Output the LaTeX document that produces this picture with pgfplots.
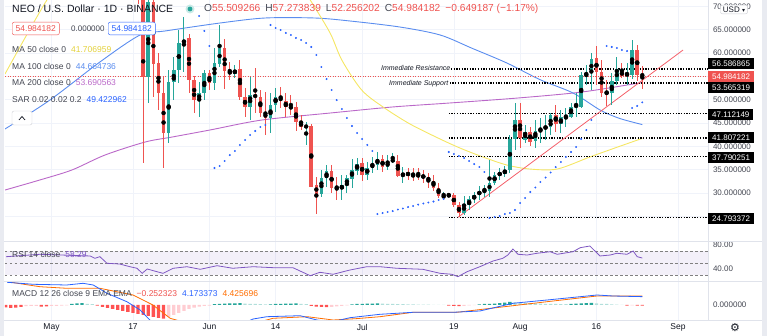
\documentclass[border=0pt]{standalone}
\usepackage{pgfplots}
\pgfplotsset{compat=1.18}
\usepackage{pgfplotstable}
\usepackage{fontspec}
\setmainfont{Liberation Sans}
\newfontfamily\dejavu{DejaVu Sans}
\definecolor{upc}{HTML}{26A69A}
\definecolor{dnc}{HTML}{EF5350}
\definecolor{ma50}{HTML}{F5E663}
\definecolor{ma50t}{HTML}{E3D13C}
\definecolor{ma100}{HTML}{5B8DEF}
\definecolor{ma200}{HTML}{BA68C8}
\definecolor{sarc}{HTML}{2962FF}
\definecolor{gridc}{HTML}{F0F3FA}
\definecolor{sepc}{HTML}{E0E3EB}
\definecolor{txt}{HTML}{131722}
\definecolor{lbl}{HTML}{434651}
\definecolor{rsic}{HTML}{7E57C2}
\definecolor{sigc}{HTML}{FF6D00}
\definecolor{hdr}{HTML}{FF5252}
\definecolor{hlr}{HTML}{FFCDD2}
\definecolor{hdg}{HTML}{26A69A}
\definecolor{hlg}{HTML}{B2DFDB}
\definecolor{trend}{HTML}{F4606A}
\newcommand{\fs}[1]{\fontsize{#1}{#1}\selectfont}

\pgfplotstableread{
d o h l c
19 54.86 75.0 49.29 71.0
23 42.86 56.36 40.72 53.79
24 53.79 59.15 49.93 56.36
25 56.36 64.93 53.57 62.15
26 62.15 67.72 55.93 62.79
29 49.93 53.79 46.29 51.43
30 51.43 56.36 49.93 55.71
32 53.57 61.07 52.07 57.86
33 57.64 66.0 57.0 61.07
36 55.5 57.43 54.64 56.36
39 48.43 54.86 45.64 51.0
43 46.07 51.43 42.86 48.86
44 48.86 52.5 47.36 50.57
50 44.14 45.21 40.29 44.36
53 29.79 34.93 29.14 33.21
54 33.21 36.0 31.29 34.71
57 30.86 33.86 28.5 31.71
58 31.71 33.86 30.0 33.21
59 33.0 37.29 31.07 34.93
60 34.71 37.5 33.86 36.21
62 33.86 36.64 32.79 35.36
63 35.36 37.72 34.29 36.21
64 36.0 38.79 34.93 37.29
66 35.57 38.14 34.93 36.64
67 36.86 38.57 36.43 37.07
69 33.64 35.57 32.14 34.29
77 29.14 30.22 28.93 29.36
78 29.36 30.0 29.14 29.57
81 25.71 29.36 25.29 27.64
82 27.43 29.36 26.36 28.72
83 28.72 30.22 27.86 29.57
84 29.57 31.5 28.5 30.43
85 30.43 31.71 29.14 30.86
86 30.43 37.07 29.14 32.14
87 32.14 34.5 31.71 33.86
88 33.86 35.36 32.79 34.29
89 34.07 35.79 33.43 34.93
90 34.93 42.43 34.29 41.57
91 41.57 49.29 39.22 45.64
93 41.36 44.57 40.72 43.07
95 41.15 45.64 39.64 43.29
96 43.29 46.07 40.72 43.93
97 43.93 46.72 41.36 44.14
98 44.14 47.14 42.43 46.72
100 44.78 47.79 42.86 46.29
101 46.29 48.22 44.14 46.5
102 46.29 49.29 46.07 48.43
103 48.43 51.43 46.29 48.86
104 48.43 55.93 48.22 55.29
105 55.29 57.43 53.14 55.71
106 55.71 60.0 52.07 58.72
110 51.43 55.71 48.86 54.0
111 54.0 59.15 53.14 56.57
113 55.29 57.86 53.14 55.5
114 55.29 62.79 54.43 60.64
}\upT

\pgfplotstableread{
d o h l c
17 90.0 95.0 70.5 76.0
18 76.0 80.0 36.43 54.86
20 71.0 72.5 50.5 57.64
21 57.86 60.0 47.79 51.43
22 51.43 54.86 35.36 42.86
27 63.22 64.0 51.43 54.21
28 54.21 55.0 47.14 49.93
31 55.71 56.36 52.07 53.57
34 61.07 63.0 52.29 56.14
35 56.14 58.07 54.21 55.5
37 56.57 58.5 49.93 50.57
38 50.57 52.5 46.29 48.43
40 51.0 56.79 47.14 50.57
41 50.57 52.07 46.29 47.14
42 47.14 51.65 42.43 46.07
45 50.57 52.72 48.22 49.72
46 49.72 51.43 46.29 48.43
47 48.43 51.0 46.72 48.22
48 48.43 49.5 43.29 45.21
49 45.21 46.72 43.5 44.14
51 44.36 44.78 31.29 31.29
52 31.71 33.43 25.5 29.79
55 34.71 36.0 30.0 31.07
56 31.29 33.43 28.5 31.07
61 36.43 37.5 32.57 33.86
65 37.29 38.14 34.5 35.57
68 36.86 38.14 33.43 33.64
70 34.29 35.36 32.79 33.86
71 34.07 35.36 32.57 33.43
72 34.07 35.36 32.79 33.43
73 33.86 34.93 32.14 33.21
74 33.43 34.29 31.07 32.57
75 32.57 33.86 30.43 31.07
76 31.07 32.14 28.93 29.36
79 29.57 30.0 27.0 27.43
80 27.43 28.07 24.79 25.71
92 45.64 49.29 39.64 41.79
94 43.07 44.14 40.07 40.93
99 46.72 48.86 43.07 44.78
107 58.93 61.5 53.14 55.93
108 55.93 58.5 50.57 51.43
109 51.65 54.21 48.65 51.43
112 56.14 57.86 54.64 55.07
115 60.64 61.72 54.0 55.29
116 55.51 57.27 52.26 54.98
}\dnT

\pgfplotsset{
  tvpane/.style={scale only axis, width=703pt, xmin=-9.13, xmax=128.9,
    at={(5pt,#1)}, anchor=south west, axis line style={draw=none},
    xtick={0,16,31,44,61,79,92,107,123}, xticklabels={}, xmajorgrids,
    grid style={gridc, line width=0.7pt}, major tick length=0pt,
    tick style={draw=none}, yticklabel pos=right,
    yticklabel style={font=\fs{8}, text=lbl, xshift=1.5pt},
    /pgf/number format/assume math mode=true, clip=true},
  wick/.style={only marks, mark=none, forget plot, error bars/.cd, y dir=both, y explicit,
    error mark=none, error bar style={draw=#1, line width=0.9pt}},
  body/.style={only marks, mark=none, forget plot, error bars/.cd, y dir=both, y explicit,
    error mark=none, error bar style={draw=#1, line width=3.6pt}},
  hbar/.style={ybar, bar width=3.3pt, bar shift=0pt, fill=#1, draw=none, forget plot}
}

\begin{document}
\begin{tikzpicture}
\useasboundingbox (0,0) rectangle (767pt,336pt);

% ===== main price pane =====
\begin{axis}[tvpane=95pt, height=241pt, ymin=19.72, ymax=71.36,
  ytick={30,35,40,45,50,60,65,70}, ymajorgrids,
  extra y ticks={25,55}, extra y tick labels={}, extra y tick style={grid=major},
  /pgf/number format/.cd, fixed, fixed zerofill, precision=6]
% MAs
\addplot[ma200, line width=0.9pt, smooth] coordinates {(-9.13,30.64) (-2.3,32.79) (4.0,34.93) (10.5,38.14) (18.4,40.93) (23.7,42.0) (31.1,43.5) (41.3,45.64) (54.7,47.14) (66.9,48.43) (78.2,49.29) (91.6,50.36) (104.2,51.65) (116,53.69)};
\addplot[ma100, line width=0.9pt, smooth] coordinates {(-9.13,43.72) (-0.3,49.93) (9.5,58.07) (17.4,63.86) (22.3,64.72) (33.1,66.43) (41.9,67.5) (51.7,67.5) (58.6,66.86) (68.4,65.57) (76.3,63.86) (82.6,61.0) (89.4,57.86) (95.9,54.3) (102.4,51.43) (107.7,47.79) (111.5,46.0) (116,44.66)};
\addplot[ma50, line width=0.9pt, smooth] coordinates {(-9.13,55.5) (-0.9,71.36) (5.6,81.0) (29.2,90.6) (44.9,81.0) (48.8,74.6) (50.8,71.36) (54.7,64.29) (57.0,58.5) (60.9,52.07) (65.1,48.43) (70.4,44.78) (76.3,41.57) (80.2,39.64) (84.7,37.72) (89.4,36.0) (93.9,35.14) (99.3,35.14) (105.7,37.72) (110.6,39.64) (116,41.71)};
% current price line
\addplot[dnc, line width=0.5pt, dash pattern=on 1pt off 1.5pt] coordinates {(-9.13,54.984182) (128.9,54.984182)};
% horizontal levels
\addplot[black, line width=1.3pt, dash pattern=on 1.3pt off 1.4pt] coordinates {(78.4,56.586865) (128.9,56.586865)};
\addplot[black, line width=1.3pt, dash pattern=on 1.3pt off 1.4pt] coordinates {(78.2,53.565319) (128.9,53.565319)};
\addplot[black, line width=1.3pt, dash pattern=on 1.3pt off 1.4pt] coordinates {(78.0,47.112149) (128.9,47.112149)};
\addplot[black, line width=1.3pt, dash pattern=on 1.3pt off 1.4pt] coordinates {(78.0,41.807221) (128.9,41.807221)};
\addplot[black, line width=1.3pt, dash pattern=on 1.3pt off 1.4pt] coordinates {(78.0,37.790251) (128.9,37.790251)};
\addplot[black, line width=1.3pt, dash pattern=on 1.3pt off 1.4pt] coordinates {(78.0,24.793372) (128.9,24.793372)};
% trend line
\addplot[trend, line width=0.8pt] coordinates {(79.8,24.79) (124,60.64)};
% candles
\addplot[wick=upc] table[x=d, y expr={(\thisrow{h}+\thisrow{l})/2}, y error expr={(\thisrow{h}-\thisrow{l})/2}] {\upT};
\addplot[wick=dnc] table[x=d, y expr={(\thisrow{h}+\thisrow{l})/2}, y error expr={(\thisrow{h}-\thisrow{l})/2}] {\dnT};
\addplot[body=upc] table[x=d, y expr={(\thisrow{o}+\thisrow{c})/2}, y error expr={max(abs(\thisrow{c}-\thisrow{o})/2,0.13)}] {\upT};
\addplot[body=dnc] table[x=d, y expr={(\thisrow{o}+\thisrow{c})/2}, y error expr={max(abs(\thisrow{c}-\thisrow{o})/2,0.13)}] {\dnT};
% SAR
\addplot[only marks, mark=*, mark size=0.75pt, sarc] coordinates {
(29,67.93) (30,64.72) (31,61.5)
(32,35.36) (33,35.79) (34,36.86) (35,38.14) (36,39.0) (37,40.29) (38,41.36) (39,42.43) (40,43.29) (41,44.14) (42,44.57)
(43,66.0) (44,65.36) (45,64.93) (46,64.29) (47,63.86) (48,63.22) (49,62.79) (50,62.15) (51,61.29) (52,59.57) (53,57.0) (54,54.43) (55,52.07) (56,49.93) (57,48.0) (58,46.07) (59,44.36) (60,42.86) (61,41.57) (62,40.29) (63,39.0)
(64,25.5) (65,25.71) (66,25.93) (67,26.14) (68,26.46) (69,26.68) (70,27.0) (71,27.21) (72,27.53) (73,27.75) (74,27.96) (75,28.18) (76,28.5) (77,28.72)
(78,38.79) (79,38.36) (80,37.93) (81,37.5) (82,36.86) (83,36.21) (84,35.57) (85,34.5)
(86,24.64) (87,24.86) (88,25.07) (89,25.5) (90,25.71) (91,26.36) (92,27.86) (93,28.93) (94,30.22) (95,31.18) (96,32.36) (97,33.32) (98,34.39) (99,35.57) (100,36.64) (101,37.72) (102,38.79) (103,39.86) (104,41.57) (105,43.5) (106,45.64)
(109,61.5) (110,61.29) (111,61.07) (112,60.64) (113,60.43)
(114,48.22) (115,48.65) (116,49.42)};
\end{axis}

% ===== RSI pane =====
\begin{axis}[tvpane=55pt, height=40pt, ymin=20, ymax=86.67, ytick={40,80},
  /pgf/number format/.cd, fixed, fixed zerofill, precision=2]
\addplot[draw=none, fill=rsic, fill opacity=0.09, forget plot] coordinates {(-9.13,30) (128.9,30) (128.9,70) (-9.13,70)} --cycle;
\addplot[gray, line width=0.6pt, dash pattern=on 2.5pt off 2.5pt] coordinates {(-9.13,70) (128.9,70)};
\addplot[gray, line width=0.6pt, dash pattern=on 2.5pt off 2.5pt] coordinates {(-9.13,50) (128.9,50)};
\addplot[gray, line width=0.6pt, dash pattern=on 2.5pt off 2.5pt] coordinates {(-9.13,30) (128.9,30)};
\addplot[rsic, line width=0.8pt] coordinates {
(-8.9,60.5) (-2.3,64.5) (7.6,61.7) (8.5,57.8) (9.5,60.5) (10.9,49.5) (13.4,48.3) (15.4,43.8) (16.8,41.2) (17.8,32.8) (18.8,40) (20.7,35.5) (21.9,32.8) (23.9,41.2) (26.6,43.8) (29.2,39.5) (32.5,45.5) (35.6,41.2) (39.6,43.8) (43.5,42.2) (47.4,42.2) (50.8,28.8) (52.7,34.5) (55.3,31.2) (58.6,38.3) (61.9,43.8) (64.5,43.8) (67.8,41.2) (72.9,39.5) (76.3,32.8) (78.6,31.2) (79.8,27.2) (81.6,35.5) (84.1,43.8) (86.7,53.3) (88.6,57.8) (89.6,63.3) (90.6,73.3) (91.6,64.5) (93.4,63.3) (95.3,66.2) (97.9,68.8) (99.3,64.5) (102.4,68.8) (103.8,75.5) (105.7,78.3) (107.7,61.7) (109.7,63.3) (111,66.2) (113,64.5) (114.2,70) (115,60.5) (116,58.29)};
\end{axis}

% ===== MACD pane =====
\begin{axis}[tvpane=16pt, height=39pt, ymin=-7.5, ymax=12, ytick={0},
  xticklabels={May,17,Jun,14,Jul,19,Aug,16,Sep},
  xticklabel style={font=\fs{8.5}, text=txt, yshift=-0.5pt},
  /pgf/number format/.cd, fixed, fixed zerofill, precision=6]
\addplot[hbar=hdr] coordinates {(-9,-1.2) (-8,-1.4) (-7,-1.3) (-6,-1.0) (-2,-0.8) (-1,-0.7) (9,-0.3) (10,-1.0) (11,-1.5) (12,-2.0) (13,-2.5) (14,-3.0) (15,-3.5) (16,-4.0) (17,-4.5) (18,-5.0) (19,-5.5) (20,-6.0) (21,-6.5) (22,-6.8) (51,-0.5) (52,-0.8) (53,-1.0) (54,-1.1) (78,-0.3) (79,-0.5) (80,-0.6) (113,-0.3) (115,-0.35) (116,-0.3)};
\addplot[hbar=hlr] coordinates {(-5,-0.6) (-4,-0.5) (-3,-0.4) (0,-0.5) (1,-0.4) (2,-0.3) (3,-0.2) (23,-6.0) (24,-5.0) (25,-4.0) (26,-3.0) (27,-2.0) (28,-1.3) (29,-0.8) (30,-0.5) (31,-0.3) (55,-0.9) (56,-0.7) (57,-0.4) (58,-0.2) (81,-0.4) (82,-0.2) (83,-0.1) (114,-0.15)};
\addplot[hbar=hdg] coordinates {(4,0.5) (5,0.8) (6,0.9) (32,0.4) (33,0.6) (34,0.7) (35,0.8) (36,0.8) (37,0.9) (43,0.3) (44,0.5) (45,0.6) (46,0.7) (47,0.7) (48,0.8) (59,0.3) (60,0.5) (61,0.6) (62,0.7) (63,0.7) (64,0.8) (84,0.3) (85,0.5) (86,0.6) (87,0.7) (88,0.9) (89,1.2) (90,1.5) (102,0.5) (103,0.7) (104,0.8) (105,0.9) (106,1.0)};
\addplot[hbar=hlg] coordinates {(7,0.6) (8,0.4) (38,0.7) (39,0.6) (40,0.5) (41,0.4) (42,0.3) (49,0.6) (50,0.4) (65,0.7) (66,0.6) (67,0.5) (68,0.4) (69,0.4) (70,0.3) (71,0.3) (72,0.2) (73,0.2) (74,0.2) (75,0.1) (76,0.1) (77,0.1) (91,1.3) (92,1.1) (93,1.0) (94,0.9) (95,0.8) (96,0.7) (97,0.6) (98,0.5) (99,0.5) (100,0.4) (101,0.4) (107,0.8) (108,0.6) (109,0.5) (110,0.3) (111,0.2) (112,0.1)};
\addplot[sigc, line width=0.8pt] coordinates {(-8.7,11.65) (-2.3,9.15) (3,8.35) (9.5,8.35) (16,5.0) (19.9,0) (23.3,-6.65) (28,-10) (35,-11) (40,-9) (43.5,-6.65) (50.2,-5.85) (55.3,-7.5) (60,-6.8) (64.5,-5.85) (71,-3.65) (79.6,-3.65) (90.6,-0.35) (97.3,1.65) (107.1,4.5) (116,4.43)};
\addplot[sarc, line width=0.8pt] coordinates {(-8.7,11.35) (-3.6,10.35) (3.0,10.0) (6.2,10.85) (8.2,10.0) (10.9,5.85) (14.8,1.65) (17.4,-2.5) (19.3,-7.5) (22,-11) (28,-14) (34,-13) (39.6,-7.0) (42.3,-5.85) (48.8,-5.35) (52.1,-7.5) (55,-8.5) (58.6,-6.35) (64.5,-4.65) (71,-3.65) (78.8,-3.65) (84.1,-3.0) (90.6,0.85) (97.3,2.5) (103.8,4.15) (107.1,5.0) (110.2,4.5) (116,4.17)};
\end{axis}

% ===== decorations (pixel coordinates) =====
\begin{scope}[x=1pt, y=-1pt, yshift=336pt]
\fill[sepc!70] (0,0) rectangle (4,336);
\fill[sepc!70] (762,0) rectangle (767,336);
\draw[sepc, line width=0.8pt] (4,241) -- (762,241);
\draw[sepc, line width=0.8pt] (4,281) -- (762,281);
\draw[sepc, line width=0.8pt] (4,320) -- (762,320);
\draw[sepc, line width=0.8pt] (708,0) -- (708,320);
% header
\node[anchor=west, font=\fs{10.5}, text=txt, inner sep=0pt] at (12,9) {NEO / U.S. Dollar · 1D · BINANCE};
\fill[upc!25] (190,9) circle (4.5);
\fill[upc] (190,9) circle (2.4);
\node[anchor=west, font=\fs{10.2}, inner sep=0pt] at (204,9) {\textcolor{lbl}{O}\textcolor{dnc}{55.509266}\hspace{5pt}\textcolor{lbl}{H}\textcolor{dnc}{57.273839}\hspace{5pt}\textcolor{lbl}{L}\textcolor{dnc}{52.256202}\hspace{5pt}\textcolor{lbl}{C}\textcolor{dnc}{54.984182}\hspace{5pt}\textcolor{dnc}{−0.649187 (−1.17\%)}};
\node[anchor=west, draw=dnc, fill=white, rounded corners=2pt, text=dnc, font=\fs{8.5}, inner xsep=3.5pt, minimum height=12pt] at (12,28.5) {54.984182};
\node[anchor=west, text=lbl, font=\fs{8}, inner sep=0pt] at (71,28.5) {0.000000};
\node[anchor=west, draw=sarc, fill=white, rounded corners=2pt, text=sarc, font=\fs{8.5}, inner xsep=3.5pt, minimum height=12pt] at (108,28.5) {54.984182};
\node[anchor=west, text=lbl, font=\fs{8.5}, inner sep=0pt] at (12,49) {MA 50 close 0\hspace{5pt}\textcolor{ma50t}{41.706959}};
\node[anchor=west, text=lbl, font=\fs{8.5}, inner sep=0pt] at (12,66) {MA 100 close 0\hspace{5pt}\textcolor{ma100}{44.664736}};
\node[anchor=west, text=lbl, font=\fs{8.5}, inner sep=0pt] at (12,82) {MA 200 close 0\hspace{5pt}\textcolor{ma200}{53.690563}};
\node[anchor=west, text=lbl, font=\fs{8.5}, inner sep=0pt] at (12,100) {SAR 0.02 0.02 0.2\hspace{5pt}\textcolor{sarc}{49.422962}};
\draw[sepc!80!gray, rounded corners=2pt, fill=white] (12,111) rectangle (32,125);
\draw[txt, line width=0.7pt] (19,120) -- (22,116.5) -- (25,120);
% level captions
\node[anchor=east, font=\fs{7}\itshape, text=txt, inner sep=0.5pt] at (451,68.3) {Immediate Resistance};
\node[anchor=east, font=\fs{7}\itshape, text=txt, inner sep=0.5pt] at (449,83.3) {Immediate Support};
% right price boxes
\foreach \yy/\vv in {64/56.586865, 88/53.565319, 115/47.112149, 138/41.807221, 158/37.790251, 219/24.793372}{
  \node[anchor=west, fill=black, text=white, font=\fs{8}, inner xsep=4pt, inner ysep=0pt, minimum height=11pt] at (708,\yy) {\vv};
}
\node[anchor=west, fill=dnc, text=white, font=\fs{8}, inner xsep=4pt, inner ysep=0pt, minimum height=11pt] at (708,77) {54.984182};
\node[draw=sepc!80!gray, fill=white, rounded corners=2pt, text=txt, font=\fs{8}, inner xsep=2.5pt, inner ysep=1.5pt] at (734,9.5) {USD {\dejavu\fs{6}▾}};
% indicator captions
\node[anchor=west, text=lbl, font=\fs{8.5}, inner sep=0pt] at (12,254) {RSI 14 close\hspace{5pt}\textcolor{rsic}{58.29}};
\node[anchor=west, text=lbl, font=\fs{8.5}, inner sep=0pt] at (12,293) {MACD 12 26 close 9 EMA EMA\hspace{5pt}\textcolor{dnc}{−0.252323}\hspace{5pt}\textcolor{sarc}{4.173373}\hspace{5pt}\textcolor{sigc}{4.425696}};
\node[text=txt, font=\dejavu\fs{11}] at (735,328) {⚙};
\end{scope}
\end{tikzpicture}
\end{document}
